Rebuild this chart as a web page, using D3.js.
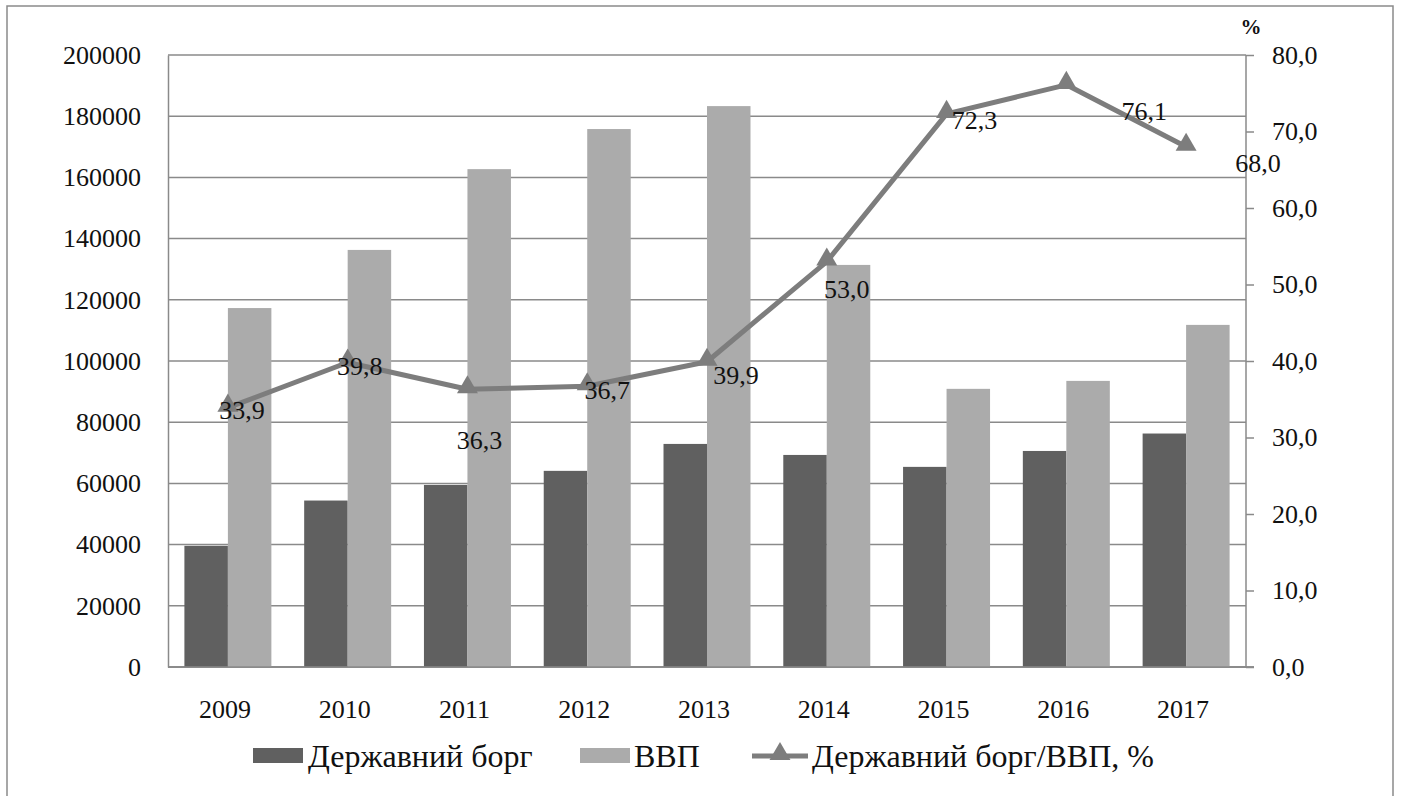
<!DOCTYPE html>
<html>
<head>
<meta charset="utf-8">
<script src="https://cdn.jsdelivr.net/npm/d3@7"></script>
<style>
  html, body { margin: 0; padding: 0; background: #fff; }
  svg { display: block; }
  text { font-family: "Liberation Serif", "Times New Roman", serif; fill: #111; }
</style>
</head>
<body>
<svg id="chart" width="1403" height="796"></svg>
<script>
// ---- data ----
const years = ["2009","2010","2011","2012","2013","2014","2015","2016","2017"];
const debt = [39600, 54400, 59500, 64100, 72900, 69300, 65400, 70600, 76300];
const gdp  = [117300, 136300, 162700, 175800, 183300, 131400, 90900, 93500, 111800];
const ratio = [33.9, 39.8, 36.3, 36.7, 39.9, 53.0, 72.3, 76.1, 68.0];
const leftTicks = [0, 20000, 40000, 60000, 80000, 100000, 120000, 140000, 160000, 180000, 200000];
const rightTicks = [0, 10, 20, 30, 40, 50, 60, 70, 80];
const seriesNames = ["Державний борг", "ВВП", "Державний борг/ВВП, %"];
// label offsets relative to each point (layout)
const labelDx = [14, 12, 12, 20, 29, 20, 28, 78, 72];
const labelDy = [3, 4, 51, 4, 14, 28, 7, 27, 17];

// ---- layout ----
const svg = d3.select("#chart");
const M = { left: 168, right: 1246, top: 55, bottom: 667 };
const colDark = "#606060", colLight = "#ababab", colLine = "#7d7d7d", colGrid = "#8a8a8a";

// outer border
svg.append("rect").attr("x", 7).attr("y", 6).attr("width", 1386).attr("height", 800)
  .attr("fill", "none").attr("stroke", "#8a8a8a").attr("stroke-width", 1.5);

const x = d3.scaleBand().domain(years).range([M.left, M.right]).paddingInner(0).paddingOuter(0);
const xs = d3.scaleBand().domain([0, 1]).range([0, x.bandwidth()]).paddingInner(0).paddingOuter(0.377);
const yL = d3.scaleLinear().domain([0, 200000]).range([M.bottom, M.top]);
const yR = d3.scaleLinear().domain([0, 80]).range([M.bottom, M.top]);

// gridlines
svg.append("g").selectAll("line").data(leftTicks).join("line")
  .attr("x1", M.left).attr("x2", M.right)
  .attr("y1", d => yL(d)).attr("y2", d => yL(d))
  .attr("stroke", colGrid).attr("stroke-width", 1.5);

// left axis (labels only)
const axL = svg.append("g").attr("transform", `translate(${M.left},0)`)
  .call(d3.axisLeft(yL).tickValues(leftTicks).tickSize(0).tickPadding(27).tickFormat(d3.format("d")));
axL.select(".domain").attr("stroke", colGrid).attr("stroke-width", 1.5);
axL.selectAll("text").style("font-size", "26px").style("font-family", "Liberation Serif, serif").attr("fill", "#111");

// right axis
const fmtR = d => d.toFixed(1).replace(".", ",");
const axR = svg.append("g").attr("transform", `translate(${M.right},0)`)
  .call(d3.axisRight(yR).tickValues(rightTicks).tickSize(8).tickPadding(18).tickFormat(fmtR));
axR.select(".domain").attr("stroke", colGrid).attr("stroke-width", 1.5).attr("d", `M0,${M.top}V${M.bottom}`);
axR.selectAll(".tick line").attr("stroke", colGrid).attr("stroke-width", 1.5);
axR.selectAll("text").style("font-size", "26px").style("font-family", "Liberation Serif, serif").attr("fill", "#111");

// bottom axis
const axB = svg.append("g").attr("transform", `translate(0,${M.bottom})`)
  .call(d3.axisBottom(x).tickSize(0).tickPadding(33));
axB.select(".domain").attr("stroke", colGrid).attr("stroke-width", 1.5).attr("d", `M${M.left},0H${M.right + 8}`);
axB.selectAll("text").style("font-size", "26px").style("font-family", "Liberation Serif, serif").attr("fill", "#111")
  .attr("dx", -3);

// bars
const g = svg.append("g");
g.selectAll(".debt").data(years).join("rect").attr("class", "debt")
  .attr("x", (d) => x(d) + xs(0)).attr("width", xs.bandwidth())
  .attr("y", (d, i) => yL(debt[i])).attr("height", (d, i) => yL(0) - yL(debt[i]))
  .attr("fill", colDark);
g.selectAll(".gdp").data(years).join("rect").attr("class", "gdp")
  .attr("x", (d) => x(d) + xs(1)).attr("width", xs.bandwidth())
  .attr("y", (d, i) => yL(gdp[i])).attr("height", (d, i) => yL(0) - yL(gdp[i]))
  .attr("fill", colLight);

// redraw bottom domain over bars
svg.append("line").attr("x1", M.left).attr("x2", M.right + 8).attr("y1", M.bottom).attr("y2", M.bottom)
  .attr("stroke", colGrid).attr("stroke-width", 1.5);

// line
const cx = d => x(d) + x.bandwidth() / 2;
const line = d3.line().x((d, i) => cx(years[i])).y(d => yR(d));
svg.append("path").datum(ratio).attr("d", line)
  .attr("fill", "none").attr("stroke", colLine).attr("stroke-width", 5).attr("stroke-linejoin", "round");
const tri = d3.symbol().type(d3.symbolTriangle).size(190);
svg.append("g").selectAll("path").data(ratio).join("path")
  .attr("d", tri)
  .attr("transform", (d, i) => `translate(${cx(years[i])},${yR(d) - 2})`)
  .attr("fill", colLine);

// data labels
svg.append("g").selectAll("text").data(ratio).join("text")
  .attr("x", (d, i) => cx(years[i]) + labelDx[i])
  .attr("y", (d, i) => yR(d) + labelDy[i])
  .attr("text-anchor", "middle").attr("dominant-baseline", "central")
  .style("font-size", "26px")
  .text(d => fmtR(d));

// % label
svg.append("text").attr("x", 1251).attr("y", 34).attr("text-anchor", "middle")
  .style("font-size", "21px").style("font-weight", "bold").text("%");

// legend
const lg = svg.append("g");
const legY = 756;
lg.append("rect").attr("x", 253).attr("y", legY - 8).attr("width", 50).attr("height", 15).attr("fill", colDark);
lg.append("text").attr("x", 308).attr("y", legY + 11).style("font-size", "32px").text(seriesNames[0]);
lg.append("rect").attr("x", 580).attr("y", legY - 8).attr("width", 50).attr("height", 15).attr("fill", colLight);
lg.append("text").attr("x", 634).attr("y", legY + 11).style("font-size", "32px").text(seriesNames[1]);
lg.append("line").attr("x1", 752).attr("x2", 808).attr("y1", legY).attr("y2", legY)
  .attr("stroke", colLine).attr("stroke-width", 5);
lg.append("path").attr("d", tri).attr("transform", `translate(780,${legY - 2})`).attr("fill", colLine);
lg.append("text").attr("x", 812).attr("y", legY + 11).style("font-size", "32px").text(seriesNames[2]);
</script>
</body>
</html>
